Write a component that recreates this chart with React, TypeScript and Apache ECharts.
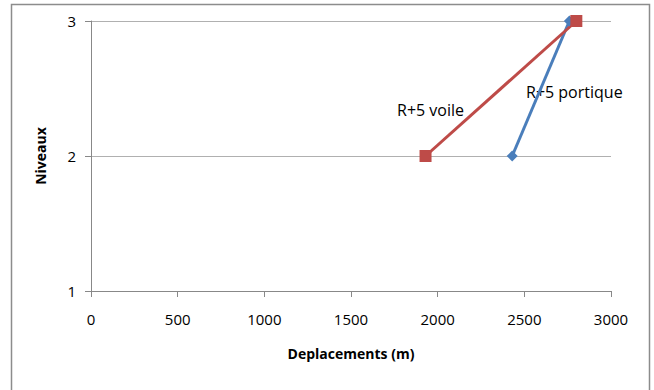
import React, { useEffect, useRef } from "react";
import * as echarts from "echarts";

const portiqueX = [2430, 2760];
const portiqueY = [2, 3];
const voileX = [1930, 2800];
const voileY = [2, 3];
const portiqueName = "R+5 portique";
const voileName = "R+5 voile";
const xTitle = "Deplacements (m)";
const yTitle = "Niveaux";

export default function App() {
  const ref = useRef<HTMLDivElement>(null);
  useEffect(() => {
    if (!ref.current) return;
    const chart = echarts.init(ref.current, null, { renderer: "svg" });
    const font = "'Open Sans', 'Noto Sans', sans-serif";
    chart.setOption({
      animation: false,
      backgroundColor: "#ffffff",
      grid: { left: 91, right: 43, top: 21, bottom: 99, containLabel: false },
      xAxis: {
        type: "value",
        min: 0,
        max: 3000,
        interval: 500,
        name: xTitle,
        nameLocation: "middle",
        nameGap: 55,
        nameTextStyle: { fontFamily: font, fontSize: 14, fontWeight: "bold", color: "#000" },
        axisLine: { show: true, lineStyle: { color: "#888", width: 1 } },
        axisTick: { show: true, length: 6, lineStyle: { color: "#888" } },
        axisLabel: {
          fontFamily: font,
          fontSize: 15,
          color: "#000",
          margin: 20,
          formatter: (v: number) => String(v),
        },
        splitLine: { show: false },
      },
      yAxis: {
        type: "value",
        min: 1,
        max: 3,
        interval: 1,
        name: yTitle,
        nameLocation: "middle",
        nameGap: 44,
        nameRotate: 90,
        nameTextStyle: { fontFamily: font, fontSize: 14, fontWeight: "bold", color: "#000" },
        axisLine: { show: true, lineStyle: { color: "#888", width: 1 } },
        axisTick: { show: true, length: 6, lineStyle: { color: "#888" } },
        axisLabel: { fontFamily: font, fontSize: 15, color: "#000", margin: 15 },
        splitLine: { show: true, lineStyle: { color: "#b0b0b0", width: 1 } },
      },
      graphic: [
        {
          type: "rect",
          shape: { x: 11.5, y: 4.5, width: 638, height: 400 },
          style: { fill: "none", stroke: "#8c8c8c", lineWidth: 1.5 },
          silent: true,
        },
        {
          type: "text",
          x: 397,
          y: 110,
          style: {
            text: voileName,
            fontFamily: font,
            fontSize: 16,
            fill: "#000",
            verticalAlign: "middle",
          },
        },
        {
          type: "text",
          x: 526,
          y: 92,
          style: {
            text: portiqueName,
            fontFamily: font,
            fontSize: 16,
            fill: "#000",
            verticalAlign: "middle",
          },
        },
      ],
      series: [
        {
          name: portiqueName,
          type: "line",
          data: portiqueX.map((x, i) => [x, portiqueY[i]]),
          symbol: "diamond",
          symbolSize: 11,
          itemStyle: { color: "#4A7EBB" },
          lineStyle: { color: "#4A7EBB", width: 3 },
        },
        {
          name: voileName,
          type: "line",
          data: voileX.map((x, i) => [x, voileY[i]]),
          symbol: "rect",
          symbolSize: 12,
          itemStyle: { color: "#BE4B48" },
          lineStyle: { color: "#BE4B48", width: 3 },
        },
      ],
    });
    return () => chart.dispose();
  }, []);
  return (
    <div
      ref={ref}
      style={{ position: "fixed", left: 0, top: 0, width: 654, height: 390 }}
    />
  );
}
